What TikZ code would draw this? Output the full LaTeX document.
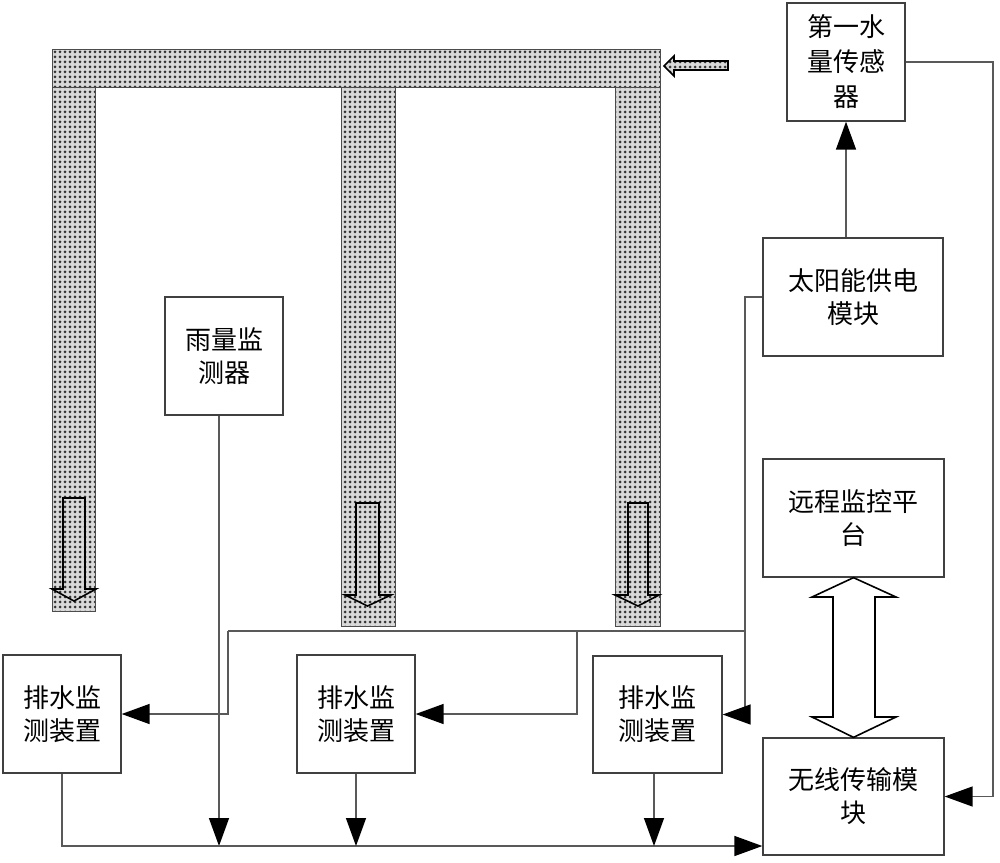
\documentclass[tikz,border=0pt]{standalone}
\usepackage{fontspec}
\setmainfont{Noto Sans CJK SC}
\usetikzlibrary{arrows.meta,patterns.meta}
\begin{document}
\begin{tikzpicture}[x=1pt,y=-1pt,
  box/.style={draw=black!75, line width=1.3pt, fill=white, align=center, font=\fontsize{26}{33}\selectfont, inner sep=0pt},
  conn/.style={draw=black!65, line width=1.4pt, -{Triangle[length=28pt,width=20pt,color=black]}},
  wire/.style={draw=black!65, line width=1.4pt},
  pipe/.style={draw=black!70, line width=1pt, preaction={fill=gray!30}, pattern={Dots[distance=5pt,radius=1.5pt]}, pattern color=black!80},
  hollow/.style={draw=black, line width=1.6pt, line join=miter}
]
\useasboundingbox (0,0) rectangle (1000,862);

% pipes
\path[pipe] (52,49) rectangle (660,87);
\path[pipe] (52,87) rectangle (95,611);
\path[pipe] (341,87) rectangle (395,626);
\path[pipe] (615,87) rectangle (660,626);

% inflow arrow
\path[pipe, draw=black, line width=1.6pt] (664,66) -- (674,56) -- (674,61) -- (728,61) -- (728,70) -- (674,70) -- (674,76) -- cycle;

% flow arrows in pipes
\draw[hollow] (63,498) -- (85,498) -- (85,589) -- (96,589) -- (74,601) -- (52,589) -- (63,589) -- cycle;
\draw[hollow] (356,503) -- (379,503) -- (379,595) -- (391,595) -- (367.5,606) -- (345,595) -- (356,595) -- cycle;
\draw[hollow] (628,503) -- (648,503) -- (648,595) -- (659,595) -- (638,606) -- (615,595) -- (628,595) -- cycle;

% boxes
\node[box, minimum width=118pt, minimum height=118pt, font=\fontsize{26}{35}\selectfont] (sensor) at (846,62) {第一水\\量传感\\器};
\node[box, minimum width=180pt, minimum height=118pt] (solar) at (853,297) {太阳能供电\\模块};
\node[box, minimum width=181pt, minimum height=118pt] (remote) at (853.5,518) {远程监控平\\台};
\node[box, minimum width=181pt, minimum height=117pt] (wireless) at (853.5,796.5) {无线传输模\\块};
\node[box, minimum width=118pt, minimum height=118pt] (rain) at (224,356) {雨量监\\测器};
\node[box, minimum width=118pt, minimum height=118pt] (dev1) at (62,714) {排水监\\测装置};
\node[box, minimum width=118pt, minimum height=118pt] (dev2) at (356,714) {排水监\\测装置};
\node[box, minimum width=129pt, minimum height=117pt] (dev3) at (657.5,714.5) {排水监\\测装置};

% helper coordinates
\coordinate (rX) at (993,0);
\coordinate (pL) at (745,631);
\coordinate (j2) at (577,631);
\coordinate (j1) at (228,631);
\coordinate (busY) at (0,846);
\coordinate (rainx) at (219,0);
\coordinate (d3x) at (654,0);

% connectors
\draw[conn] (sensor.south |- solar.north) -- (sensor.south);
\draw[conn] (sensor.east) -- (sensor.east -| rX) -- (wireless.east -| rX) -- (wireless.east);
\draw[conn] (solar.west) -- (solar.west -| pL) -- (dev3.east -| pL) -- (dev3.east);
\draw[wire] (pL) -- (j1);
\draw[conn] (j2) -- (j2 |- dev2.east) -- (dev2.east);
\draw[conn] (j1) -- (j1 |- dev1.east) -- (dev1.east);
\draw[conn] (rain.south -| rainx) -- (rainx |- busY);
\draw[conn] (dev1.south) -- (dev1.south |- busY) -- (wireless.west |- busY);
\draw[conn] (dev2.south) -- (dev2.south |- busY);
\draw[conn] (dev3.south -| d3x) -- (d3x |- busY);

% double hollow arrow
\draw[hollow, fill=white] (remote.south) -- (896,597) -- (875,597) -- (875,717) -- (896,717) -- (wireless.north) -- (812,717) -- (833,717) -- (833,597) -- (812,597) -- cycle;
\end{tikzpicture}
\end{document}
